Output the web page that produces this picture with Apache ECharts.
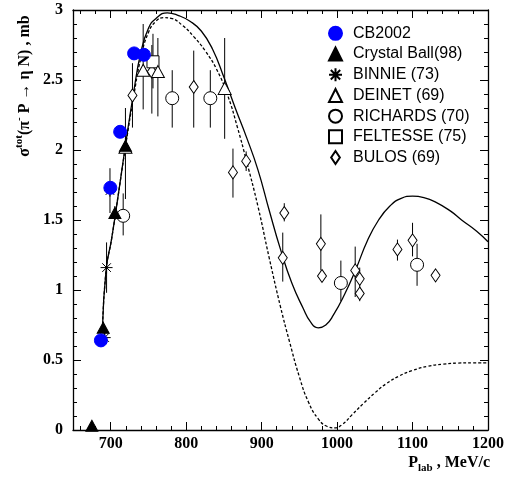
<!DOCTYPE html>
<html>
<head>
<meta charset="utf-8">
<script src="https://cdn.jsdelivr.net/npm/echarts@6/dist/echarts.min.js"></script>
<style>
  html, body { margin: 0; padding: 0; background: #fff; }
  #chart { width: 507px; height: 480px; }
</style>
</head>
<body>
<div id="chart"></div>
<script>
// tick positions
var xMajor = [700, 800, 900, 1000, 1100, 1200];
var xMinor = [660, 680, 720, 740, 760, 780, 820, 840, 860, 880, 920, 940, 960, 980,
              1020, 1040, 1060, 1080, 1120, 1140, 1160, 1180];

// measurements: [p_lab, sigma, sigma_low, sigma_high]
var cb2002 = [[687, 0.64, 0.61, 0.67], [699.5, 1.73, 1.69, 1.77], [712.5, 2.13, 2.09, 2.17],
              [731, 2.69, 2.65, 2.73], [744, 2.68, 2.64, 2.72]];
var crystalBall = [[675, 0.03, 0.02, 0.04], [690, 0.73, 0.69, 0.77], [705.5, 1.55, 1.5, 1.6],
                   [719.5, 2.03, 1.97, 2.09]];
var binnie = [[692, 0.66, 0.62, 0.70], [694.5, 1.16, 0.98, 1.34], [699, 1.71, 1.55, 1.87]];
var deinet = [[719.5, 2.02, 1.65, 2.30], [743, 2.57, 2.29, 2.90], [762.5, 2.56, 2.24, 2.80],
              [851, 2.44, 2.08, 2.80]];
var richards = [[716.5, 1.53, 1.39, 1.69], [781.5, 2.37, 2.16, 2.57], [832, 2.37, 2.16, 2.57],
                [1005, 1.05, 0.92, 1.21], [1106, 1.18, 1.03, 1.33]];
var feltesse = [[756, 2.63, 2.44, 2.83]];
var bulos = [[728.8, 2.39, 2.16, 2.62], [754.5, 2.56, 2.26, 2.75], [810, 2.45, 2.16, 2.71],
             [862, 1.84, 1.66, 2.01], [879.5, 1.92, 1.85, 1.99], [928, 1.23, 1.06, 1.41],
             [930, 1.55, 1.49, 1.62], [978.5, 1.33, 1.14, 1.54], [980, 1.10, 1.06, 1.14],
             [1024, 1.14, 0.95, 1.31], [1030, 1.08, 1.01, 1.16], [1030, 0.975, 0.92, 1.02],
             [1080, 1.29, 1.21, 1.36], [1100, 1.355, 1.24, 1.48], [1130.5, 1.105, 1.06, 1.15]];

// model curves
var curveSolid = [[689, 0.72], [694, 1.15], [701, 1.36], [710, 1.68], [720, 2.05], [730, 2.40],
                  [740, 2.70], [750, 2.87], [760, 2.94], [775, 2.98], [790, 2.96], [805, 2.92],
                  [820, 2.85], [835, 2.72], [850, 2.52], [865, 2.30], [880, 2.09], [895, 1.86],
                  [910, 1.57], [925, 1.29], [940, 1.05], [955, 0.87], [965, 0.77], [975, 0.73],
                  [985, 0.75], [995, 0.82], [1010, 0.97], [1025, 1.15], [1040, 1.35], [1055, 1.50],
                  [1070, 1.60], [1085, 1.655], [1100, 1.67], [1115, 1.66], [1130, 1.63],
                  [1150, 1.565], [1165, 1.50], [1185, 1.42], [1200, 1.345]];
var curveDashed = [[689, 0.72], [694, 1.15], [701, 1.36], [710, 1.68], [720, 2.04], [730, 2.37],
                   [740, 2.66], [750, 2.84], [760, 2.92], [770, 2.945], [780, 2.94], [795, 2.89],
                   [810, 2.81], [825, 2.71], [840, 2.58], [855, 2.39], [868, 2.16], [880, 1.92],
                   [895, 1.60], [910, 1.23], [925, 0.88], [937, 0.63], [950, 0.38], [962, 0.20],
                   [975, 0.08], [987, 0.025], [997, 0.015], [1007, 0.04], [1020, 0.11],
                   [1035, 0.19], [1050, 0.265], [1065, 0.33], [1082, 0.385], [1100, 0.425],
                   [1120, 0.455], [1140, 0.47], [1160, 0.478], [1180, 0.48], [1200, 0.48]];

var serif = '"Liberation Serif", "DejaVu Serif", serif';
var sans = '"Liberation Sans", Arial, sans-serif';

var diamondPath = 'path://M0,-3L2,0L0,3L-2,0Z';
var starPath = 'path://M0,-5L0,5M-5,0L5,0M-3.6,-3.6L3.6,3.6M-3.6,3.6L3.6,-3.6';

function errBars(name, data) {
  return {
    name: name + '_err',
    type: 'custom',
    z: 1,
    silent: true,
    data: data.map(function (d) { return [d[0], d[2], d[3]]; }),
    renderItem: function (params, api) {
      var p1 = api.coord([api.value(0), api.value(1)]);
      var p2 = api.coord([api.value(0), api.value(2)]);
      return {
        type: 'line',
        shape: { x1: p1[0], y1: p1[1], x2: p2[0], y2: p2[1] },
        style: { stroke: '#000', lineWidth: 1 }
      };
    }
  };
}

function points(name, data, symbol, size, fill, border) {
  return {
    name: name,
    type: 'scatter',
    z: 5,
    symbol: symbol,
    symbolSize: size,
    data: data.map(function (d) { return [d[0], d[1]]; }),
    itemStyle: { color: fill, borderColor: border, borderWidth: 1, opacity: 1 }
  };
}

function curve(name, data, dash) {
  return {
    name: name, type: 'line', data: data, showSymbol: false, z: 2,
    smooth: 0.5, silent: true,
    lineStyle: { color: '#000', width: 1.3, type: dash ? [3, 2] : 'solid' }
  };
}

function xAxisDef(pos, ticks, len, labels) {
  return {
    type: 'value', position: pos, min: 650, max: 1200,
    axisLine: { show: labels, onZero: false, lineStyle: { color: '#000', width: 1.3 } },
    axisTick: { inside: true, length: len, customValues: ticks, lineStyle: { color: '#000' } },
    axisLabel: labels && pos === 'bottom' ? {
      customValues: xMajor, margin: 6, color: '#000',
      fontFamily: serif, fontWeight: 'bold', fontSize: 16,
      formatter: function (v) { return String(v); }
    } : { show: false },
    splitLine: { show: false }
  };
}

function yAxisDef(pos, labels) {
  return {
    type: 'value', position: pos, min: 0, max: 3, interval: 0.5,
    axisLine: { show: true, onZero: false, lineStyle: { color: '#000', width: 1.3 } },
    axisTick: { inside: true, length: 8, lineStyle: { color: '#000' } },
    minorTick: { show: true, splitNumber: 5, length: 4, lineStyle: { color: '#000' } },
    axisLabel: labels ? {
      margin: 10, color: '#000', fontFamily: serif, fontWeight: 'bold', fontSize: 16
    } : { show: false },
    splitLine: { show: false },
    minorSplitLine: { show: false }
  };
}

var chart = echarts.init(document.getElementById('chart'), null, { renderer: 'canvas' });

var legendNames = ['CB2002', 'Crystal Ball(98)', 'BINNIE (73)', 'DEINET (69)',
                   'RICHARDS (70)', 'FELTESSE (75)', 'BULOS (69)'];

chart.setOption({
  animation: false,
  backgroundColor: '#fff',
  grid: { left: 73, right: 17, top: 10, bottom: 50 },
  xAxis: [
    xAxisDef('bottom', xMajor, 8, true),
    xAxisDef('bottom', xMinor, 4, false),
    xAxisDef('top', xMajor, 8, true),
    xAxisDef('top', xMinor, 4, false)
  ],
  yAxis: [yAxisDef('left', true), yAxisDef('right', false)],
  legend: {
    data: legendNames,
    orient: 'vertical',
    left: 323,
    top: 18,
    itemWidth: 13,
    itemHeight: 13,
    itemGap: 0,
    selectedMode: false,
    textStyle: { color: '#000', fontFamily: sans, fontSize: 16, lineHeight: 20.7, padding: [0, 0, 0, 6] }
  },
  graphic: [
    {
      type: 'text', x: 25, y: 86, rotation: Math.PI / 2,
      style: {
        text: '{a|σ}{s|tot}{a|(π}{s|-}{a| P → η N) , mb}',
        textAlign: 'center', textVerticalAlign: 'middle',
        rich: {
          a: { fontFamily: serif, fontWeight: 'bold', fontSize: 16, lineHeight: 22, fill: '#000' },
          s: { fontFamily: serif, fontWeight: 'bold', fontSize: 11, lineHeight: 22, verticalAlign: 'top', fill: '#000' }
        }
      }
    },
    {
      type: 'text', x: 490, y: 463,
      style: {
        text: '{a|P}{b|lab}{a| , MeV/c}',
        textAlign: 'right', textVerticalAlign: 'middle',
        rich: {
          a: { fontFamily: serif, fontWeight: 'bold', fontSize: 16, lineHeight: 22, fill: '#000' },
          b: { fontFamily: serif, fontWeight: 'bold', fontSize: 11, lineHeight: 22, verticalAlign: 'bottom', fill: '#000' }
        }
      }
    }
  ],
  series: [
    curve('model', curveSolid, false),
    curve('model2', curveDashed, true),
    errBars('CB2002', cb2002),
    errBars('Crystal Ball(98)', crystalBall),
    errBars('BINNIE (73)', binnie),
    errBars('DEINET (69)', deinet),
    errBars('RICHARDS (70)', richards),
    errBars('FELTESSE (75)', feltesse),
    errBars('BULOS (69)', bulos),
    points('BULOS (69)', bulos, diamondPath, [9, 13], '#fff', '#000'),
    points('FELTESSE (75)', feltesse, 'rect', 12, '#fff', '#000'),
    points('RICHARDS (70)', richards, 'circle', 13, '#fff', '#000'),
    points('DEINET (69)', deinet, 'triangle', [13, 12], '#fff', '#000'),
    points('BINNIE (73)', binnie, starPath, 12, '#000', '#000'),
    points('Crystal Ball(98)', crystalBall, 'triangle', [12, 11], '#000', '#000'),
    points('CB2002', cb2002, 'circle', 13, '#0000ff', '#0000ff')
  ]
});
</script>
</body>
</html>
